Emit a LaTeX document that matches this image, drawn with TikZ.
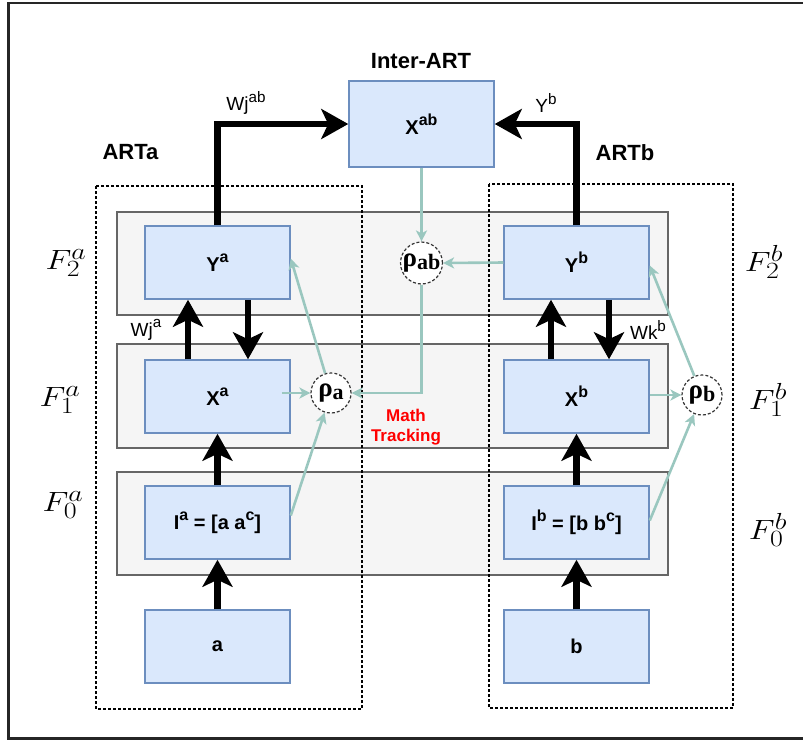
\documentclass[tikz,border=0pt]{standalone}
\usepackage[no-math]{fontspec}
\setmainfont{Liberation Sans}
\newfontfamily\rhofont{Liberation Serif}
\usetikzlibrary{arrows.meta,calc}

\definecolor{boxfill}{HTML}{DAE8FC}
\definecolor{boxline}{HTML}{6C8EBF}
\definecolor{bandfill}{HTML}{F5F5F5}
\definecolor{bandline}{HTML}{666666}
\definecolor{mintline}{HTML}{9AC7BF}
\definecolor{trackred}{HTML}{FF0000}

% raised, slightly reduced index text
\newcommand{\sups}[1]{\raisebox{0.45em}{\scalebox{0.8}{#1}}}
\newcommand{\gatelabel}[1]{{\rhofont\bfseries\fontsize{27}{27}\selectfont ρ\raisebox{-3pt}{\fontsize{22}{22}\selectfont #1}}}

\tikzset{
  unit/.style={draw=boxline, fill=boxfill, line width=1.5pt,
    minimum width=145pt, minimum height=73pt, inner sep=0pt,
    font=\bfseries\fontsize{20}{20}\selectfont},
  band/.style={draw=bandline, fill=bandfill, line width=1.4pt},
  module/.style={draw=black, line width=1.2pt, dash pattern=on 3pt off 2pt},
  gate/.style={circle, draw=black!80, fill=white, line width=1.2pt,
    dash pattern=on 3pt off 2pt, minimum size=40pt, inner sep=0pt},
  bigarrow/.style={line width=6.5pt, draw=black,
    -{Stealth[length=27pt, width=30pt, inset=7pt]}},
  mint/.style={line width=2.6pt, draw=mintline,
    -{Stealth[length=11pt, width=11pt, inset=3pt]}},
  flabel/.style={font=\fontsize{24.88}{25}\selectfont, xscale=1.35, yscale=1.12},
  title/.style={font=\bfseries\fontsize{22}{22}\selectfont},
  weight/.style={font=\fontsize{19}{19}\selectfont},
}

\begin{document}
\begin{tikzpicture}[x=1pt, y=-1pt]
  \useasboundingbox (0,0) rectangle (803,740);

  % outer frame (open on the right)
  \draw[line width=2.7pt, draw=black!85] (812,3) -- (8.7,3) -- (8.7,738.3) -- (812,738.3);

  % layer bands F2, F1, F0
  \draw[band] (117,212) rectangle (668,315);
  \draw[band] (117,344) rectangle (668,448);
  \draw[band] (117,472) rectangle (668,575);

  % ARTa and ARTb modules
  \draw[module] (96,186) rectangle (362,709);
  \draw[module] (489,184) rectangle (733,708);

  % titles
  \node[title] (tinter) at (421,61) {Inter-ART};
  \node[title] (tarta) at (130.5,152.5) {ARTa};
  \node[title] (tartb) at (625,152.5) {ARTb};

  % processing units
  \node[unit, minimum height=86pt] (Xab) at (421.5,124) {X\sups{ab}};

  \node[unit] (Ya) at (217.5,262.5) {Y\sups{a}};
  \node[unit] (Xa) at (217.5,396.5) {X\sups{a}};
  \node[unit] (Ia) at (217.5,522.5) {I\sups{a} = [a a\sups{c}]};
  \node[unit] (ina) at (217.5,646.5) {a};

  \node[unit] (Yb) at (576.5,262.5) {Y\sups{b}};
  \node[unit] (Xb) at (576.5,396.5) {X\sups{b}};
  \node[unit] (Ib) at (576.5,522.5) {I\sups{b} = [b b\sups{c}]};
  \node[unit] (inb) at (576.5,646.5) {b};

  % vigilance gates
  \node[gate] (rhoab) at (421.5,263) {\gatelabel{ab}};
  \node[gate] (rhoa) at (331,393) {\gatelabel{a}};
  \node[gate] (rhob) at (702,395) {\gatelabel{b}};

  % layer names
  \node[flabel] (fa2) at (66,263) {$F_2^a$};
  \node[flabel] (fa1) at (60,400) {$F_1^a$};
  \node[flabel] (fa0) at (63,505) {$F_0^a$};
  \node[flabel] (fb2) at (764,262) {$F_2^b$};
  \node[flabel] (fb1) at (768,400) {$F_1^b$};
  \node[flabel] (fb0) at (768,530) {$F_0^b$};

  % weight labels
  \node[weight] (lwjab) at (246,103) {Wj\sups{ab}};
  \node[weight] (lyb) at (546,103) {Y\sups{b}};
  \node[weight] (lwja) at (146,330) {Wj\sups{a}};
  \node[weight] (lwkb) at (648,330) {Wk\sups{b}};

  \node[font=\bfseries\fontsize{17}{20}\selectfont, text=trackred, align=center]
    (track) at (406,427) {Math\\Tracking};

  % bottom-up and top-down pathways
  \draw[bigarrow] (Ya.north) |- (Xab.west);
  \draw[bigarrow] (Yb.north) |- (Xab.east);

  \draw[bigarrow] ([xshift=-29.5pt]Xa.north) -- ([xshift=-29.5pt]Ya.south);
  \draw[bigarrow] ([xshift=30.5pt]Ya.south) -- ([xshift=30.5pt]Xa.north);
  \draw[bigarrow] ([xshift=-25.5pt]Xb.north) -- ([xshift=-25.5pt]Yb.south);
  \draw[bigarrow] ([xshift=32.5pt]Yb.south) -- ([xshift=32.5pt]Xb.north);

  \draw[bigarrow] (Ia.north) -- (Xa.south);
  \draw[bigarrow] (ina.north) -- (Ia.south);
  \draw[bigarrow] (Ib.north) -- (Xb.south);
  \draw[bigarrow] (inb.north) -- (Ib.south);

  % match tracking signals
  \coordinate (xaout) at ($(Xa.east |- rhoa.west)+(-9,0)$);
  \draw[mint] (Xab.south) -- (rhoab.north);
  \draw[mint] (Yb.west) -- (rhoab.east);
  \draw[mint] (rhoab.south) |- (rhoa.east);
  \draw[mint] (xaout) -- (rhoa.west);
  \draw[mint] (rhoa) -- ([yshift=4pt]Ya.east);
  \draw[mint] ([yshift=7pt]Ia.east) -- (rhoa);
  \draw[mint] (Xb.east |- rhob.west) -- (rhob.west);
  \draw[mint] (rhob) -- ([yshift=-3pt]Yb.east);
  \draw[mint] ([yshift=2pt]Ib.east) -- (rhob);
\end{tikzpicture}
\end{document}
